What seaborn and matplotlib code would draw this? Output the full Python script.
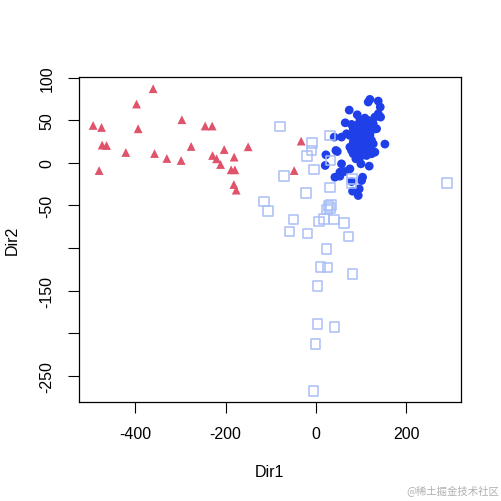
import numpy as np
import pandas as pd
import matplotlib
matplotlib.use("Agg")
import matplotlib.pyplot as plt
import seaborn as sns

# group 1: red triangles
tri_x = [-360.4, -397.2, -493.3, -474.7, -393.6, -296.8, -245.2, -229.7, -473.3, -463.6,
         -420.9, -357.3, -330.0, -298.4, -276.2, -203.1, -228.8, -219.9, -211.1, -181.0,
         -150.0, -480.0, -187.6, -179.4, -181.6, -176.5, -32.6, -48.1]
tri_y = [87.0, 69.0, 43.9, 41.5, 40.0, 50.6, 43.2, 43.2, 20.8, 20.3,
         12.1, 10.9, 5.1, 2.7, 19.2, 15.6, 8.6, 4.7, -2.0, 6.7,
         18.8, -9.1, -8.2, -8.2, -25.5, -32.1, 25.5, -9.1]

# group 2: dark blue filled circles
dot_x = [115.9, 119.6, 138.1, 142.5, 73.8, 91.6, 138.1, 143.3, 130.7, 108.5,
         97.5, 104.8, 115.9, 65.0, 79.0, 90.1, 101.2, 112.2, 127.0, 134.4,
         127.0, 82.7, 93.8, 104.8, 115.9, 67.9, 56.8, 40.6, 75.3, 86.4,
         97.5, 108.5, 119.6, 90.1, 101.2, 112.2, 123.3, 152.8, 127.0, 115.9,
         104.8, 93.8, 75.3, 79.0, 47.3, 44.3, 22.2, 82.7, 88.6, 97.5,
         112.2, 123.3, 130.7, 20.7, 56.8, 99.7, 118.1, 75.3, 64.2, 53.2,
         42.1, 53.2, 103.4, 101.2, 79.0, 81.2, 96.0, 93.8, 108.5, 119.6,
         104.8, 82.7, 97.5, 108.5, 90.0, 119.6]
dot_y = [71.4, 74.5, 72.5, 65.5, 61.9, 56.4, 57.6, 53.7, 53.7, 52.5,
         49.8, 47.8, 49.8, 47.0, 45.1, 43.9, 43.9, 44.7, 45.9, 40.0,
         39.2, 40.0, 38.0, 36.9, 38.0, 34.1, 30.2, 30.2, 32.1, 32.1,
         32.1, 32.1, 32.1, 28.2, 26.3, 27.4, 26.3, 22.0, 22.3, 20.4,
         18.4, 19.6, 18.4, 14.5, 13.3, 14.5, 9.4, 10.6, 4.7, 6.7,
         8.6, 10.6, 12.5, -3.1, -1.2, -1.2, -3.9, -7.1, -10.2, -11.0,
         -16.9, -15.7, -16.9, -20.8, -22.0, -33.3, -30.6, -38.4, 40.8, 44.3,
         28.2, 24.3, 14.5, 14.5, 36.0, 14.5]

# group 3: light blue open squares
sq_x = [-79.1, 31.0, -8.9, -9.5, -19.9, 32.6, -4.4, -70.9, 80.4, 79.1,
        31.0, -22.2, 290.2, -114.5, -106.3, 33.2, 28.1, 25.0, 31.0, -49.4,
        7.3, 17.7, 39.9, 62.7, -58.3, -18.4, 72.4, 23.7, 10.4, 25.9,
        81.3, 3.8, 3.8, 41.4, -0.7, -5.1]
sq_y = [42.7, 32.1, 23.2, 14.5, 7.9, 2.7, -7.9, -15.6, -18.8, -23.9,
        -29.0, -35.6, -23.9, -45.5, -56.8, -49.4, -50.9, -54.9, -53.3, -66.7,
        -69.0, -65.9, -66.7, -70.9, -80.8, -83.1, -86.7, -101.1, -122.0, -123.1,
        -130.2, -144.3, -189.0, -192.5, -212.5, -267.8]

x_ticks = [-400, -200, 0, 200]
y_ticks = [100, 50, 0, -50, -100, -150, -200, -250]
y_ticklabels = ["100", "50", "0", "-50", "", "-150", "", "-250"]

sns.set_style("white")
plt.rcParams["font.family"] = ["Liberation Sans", "DejaVu Sans"]
plt.rcParams["text.color"] = "black"
plt.rcParams["axes.labelcolor"] = "black"
plt.rcParams["xtick.color"] = "black"
plt.rcParams["ytick.color"] = "black"

fig = plt.figure(figsize=(5.02, 5.02), dpi=100)
ax = fig.add_axes([0.157, 0.197, 0.761, 0.648])

sns.scatterplot(x=dot_x, y=dot_y, ax=ax, marker="o", s=40, color="#1f40e8",
                edgecolor="none", linewidth=0)
sns.scatterplot(x=sq_x, y=sq_y, ax=ax, marker="s", s=48, facecolors="none",
                edgecolor="#a9bff7", linewidth=1.1)
sns.scatterplot(x=tri_x, y=tri_y, ax=ax, marker="^", s=40, color="#df536b",
                edgecolor="none", linewidth=0)

ax.set_xlim(-525, 321)
ax.set_ylim(-281, 101)
ax.set_xticks(x_ticks)
ax.set_xticklabels([str(v) for v in x_ticks])
ax.set_yticks(y_ticks)
ax.set_yticklabels(y_ticklabels, rotation=90, va="center")
ax.tick_params(axis="both", direction="out", length=8, width=0.8, pad=9.5,
               labelsize=11.5, bottom=True, left=True)
for sp in ax.spines.values():
    sp.set_color("black")
    sp.set_linewidth(0.9)

ax.set_xlabel("Dir1", fontsize=11.5, labelpad=16)
ax.set_ylabel("Dir2", fontsize=11.5, labelpad=14)

fig.text(0.995, 0.012, "@稀土掘金技术社区", ha="right", va="bottom", fontsize=7.5,
         color="#b0b0b0", family=["Noto Sans CJK SC", "DejaVu Sans"])

fig.savefig("out.png", dpi=100, facecolor="white")
